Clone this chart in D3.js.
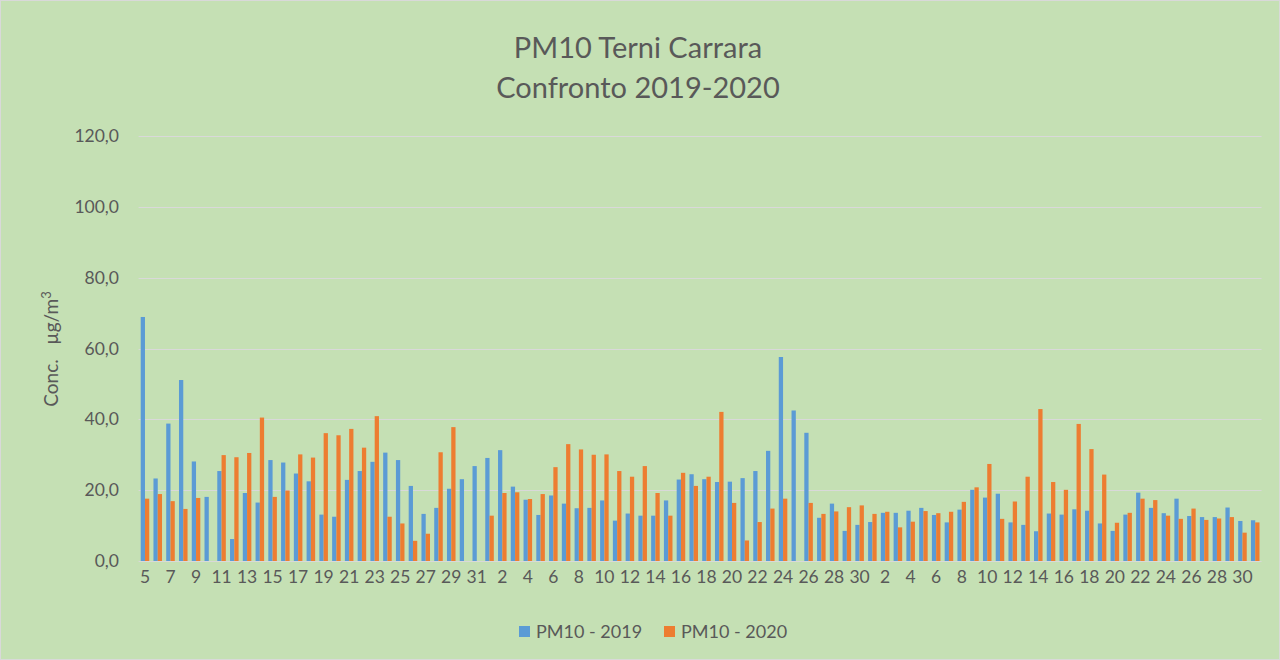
<!DOCTYPE html>
<html>
<head>
<meta charset="utf-8">
<script src="https://cdn.jsdelivr.net/npm/d3@7"></script>
<style>
  html, body { margin: 0; padding: 0; background: #fff; }
  svg { display: block; font-family: Lato, "Open Sans", sans-serif; }
</style>
</head>
<body>
<div id="viz"></div>
<script>
// giorni: 5-31 marzo, 1-30 aprile, 1-31 maggio
const days = [
  '5','6','7','8','9','10','11','12','13','14','15','16','17','18','19','20','21','22','23','24','25','26','27','28','29','30','31',
  '1','2','3','4','5','6','7','8','9','10','11','12','13','14','15','16','17','18','19','20','21','22','23','24','25','26','27','28','29','30',
  '1','2','3','4','5','6','7','8','9','10','11','12','13','14','15','16','17','18','19','20','21','22','23','24','25','26','27','28','29','30','31'
];
const pm2019 = [
  68.9, 23.3, 38.8, 51.1, 28.1, 18.1, 25.4, 6.2, 19.2, 16.5, 28.5, 27.8, 24.7, 22.5, 13.1, 12.5, 22.9, 25.4, 28.0, 30.6, 28.5, 21.2, 13.3, 15.0, 20.4, 23.1, 26.8,
  29.1, 31.3, 21.0, 17.3, 13.0, 18.5, 16.2, 14.9, 15.0, 17.1, 11.4, 13.4, 12.8, 12.8, 17.1, 23.0, 24.5, 23.1, 22.3, 22.4, 23.4, 25.4, 31.1, 57.6, 42.5, 36.2, 12.2, 16.2, 8.5, 10.2,
  11.0, 13.6, 13.6, 14.2, 15.0, 13.0, 10.9, 14.5, 20.1, 17.9, 19.0, 10.9, 10.2, 8.4, 13.4, 13.1, 14.6, 14.2, 10.6, 8.5, 13.1, 19.3, 15.0, 13.5, 17.6, 12.7, 12.4, 12.4, 15.1, 11.3, 11.5
];
const pm2020 = [
  17.6, 18.9, 16.9, 14.7, 17.8, 0, 29.9, 29.3, 30.5, 40.5, 18.1, 19.9, 30.1, 29.2, 36.1, 35.5, 37.3, 32.0, 40.9, 12.5, 10.6, 5.7, 7.7, 30.7, 37.8, 0, 0,
  12.8, 19.2, 19.4, 17.5, 18.9, 26.5, 33.0, 31.5, 30.0, 30.1, 25.4, 23.8, 26.8, 19.2, 12.8, 24.9, 21.2, 23.8, 42.1, 16.4, 5.8, 11.0, 14.8, 17.6, 0, 16.4, 13.3, 14.0, 15.2, 15.7,
  13.3, 13.9, 9.5, 11.1, 14.1, 13.5, 13.9, 16.7, 20.8, 27.4, 11.9, 16.8, 23.8, 42.9, 22.3, 20.1, 38.7, 31.6, 24.4, 10.8, 13.6, 17.6, 17.2, 12.8, 11.9, 14.8, 11.6, 12.0, 12.4, 8.0, 10.9
];
const seriesNames = ['PM10 - 2019', 'PM10 - 2020'];
const seriesColors = ['#5B9BD5', '#ED7D31'];
const yTicks = [0, 20, 40, 60, 80, 100, 120];

const W = 1280, H = 660;
const plotLeft = 138.6, plotRight = 1261.6, plotTop = 136, plotBottom = 561;
const textColor = '#595959';

const svg = d3.select('#viz').append('svg')
  .attr('width', W)
  .attr('height', H);

svg.append('rect')
  .attr('x', 0.5).attr('y', 0.5)
  .attr('width', W - 1).attr('height', H - 1)
  .attr('fill', '#C5E0B4')
  .attr('stroke', '#D9D9D9');

const y = d3.scaleLinear().domain([0, 120]).range([plotBottom, plotTop]);
const x = d3.scaleBand()
  .domain(d3.range(days.length))
  .range([plotLeft, plotRight])
  .paddingInner(0.33)
  .paddingOuter(0.165);
const x1 = d3.scaleBand().domain([0, 1]).range([0, x.bandwidth()]);

// griglia
svg.append('g')
  .selectAll('line')
  .data(yTicks)
  .join('line')
  .attr('x1', plotLeft).attr('x2', plotRight)
  .attr('y1', d => Math.round(y(d)) + 0.5)
  .attr('y2', d => Math.round(y(d)) + 0.5)
  .attr('stroke', '#D9D9D9')
  .attr('stroke-width', 1);

svg.append('g')
  .selectAll('text')
  .data(yTicks)
  .join('text')
  .attr('x', 119)
  .attr('y', d => y(d) + 6)
  .attr('text-anchor', 'end')
  .attr('font-size', 17.5)
  .attr('fill', textColor)
  .text(d => d.toFixed(1).replace('.', ','));

// barre
const series = [pm2019, pm2020];
series.forEach((vals, s) => {
  svg.append('g')
    .selectAll('rect')
    .data(vals)
    .join('rect')
    .attr('x', (d, i) => x(i) + x1(s))
    .attr('y', d => y(d))
    .attr('width', x1.bandwidth())
    .attr('height', d => y(0) - y(d))
    .attr('fill', seriesColors[s]);
});

// etichette asse x (una ogni due)
svg.append('g')
  .selectAll('text')
  .data(days.map((d, i) => ({ d, i })).filter(o => o.i % 2 === 0))
  .join('text')
  .attr('x', o => x(o.i) + x.bandwidth() / 2)
  .attr('y', 583)
  .attr('text-anchor', 'middle')
  .attr('font-size', 17.5)
  .attr('fill', textColor)
  .text(o => o.d);

// titolo
const title = svg.append('text')
  .attr('x', 638)
  .attr('text-anchor', 'middle')
  .attr('font-size', 29)
  .attr('fill', textColor);
title.append('tspan').attr('x', 638).attr('y', 58).text('PM10 Terni Carrara');
title.append('tspan').attr('x', 638).attr('y', 98).text('Confronto 2019-2020');

// titolo asse y
const yl = svg.append('text')
  .attr('transform', 'translate(58,349) rotate(-90)')
  .attr('text-anchor', 'middle')
  .attr('font-size', 19)
  .attr('fill', textColor);
yl.append('tspan').text('Conc.\u00a0\u00a0\u00a0\u00b5g/m');
yl.append('tspan').attr('font-size', 13).attr('dy', -7).text('3');

// legenda
const legendX = [519, 664];
seriesNames.forEach((name, s) => {
  svg.append('rect')
    .attr('x', legendX[s]).attr('y', 626)
    .attr('width', 11).attr('height', 11)
    .attr('fill', seriesColors[s]);
  svg.append('text')
    .attr('x', legendX[s] + 17).attr('y', 638)
    .attr('font-size', 18)
    .attr('fill', textColor)
    .text(name);
});
</script>
</body>
</html>
